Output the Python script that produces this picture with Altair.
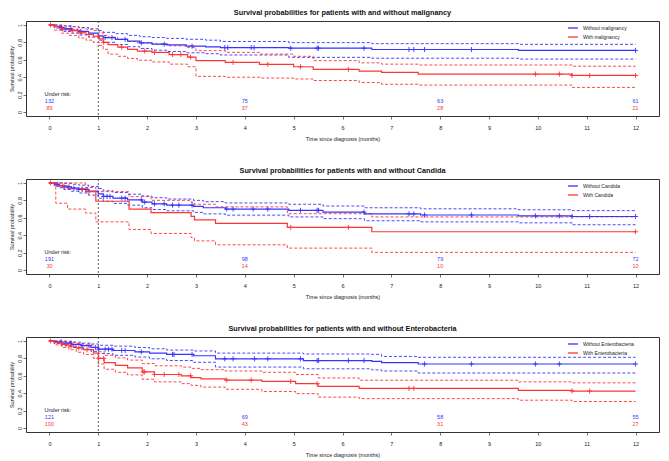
import altair as alt
import pandas as pd

BLUE = "#3535ff"
RED = "#ff3535"
COLORS = [BLUE, RED]
FONT = "Liberation Sans"

T_END = 12
LANDMARK = [1]
RISK_TIMES = [0, 4, 8, 12]

# ---------------- Panel 1: malignancy ----------------
p1_title = "Survival probabilities for patients with and without malignancy"
p1_groups = ["Without malignancy", "With malignancy"]
p1_a_times = [0, 0.1, 0.2, 0.3, 0.45, 0.6, 0.8, 1.0, 1.1, 1.35, 1.6, 1.85, 2.1, 2.4, 2.8, 3.2, 3.5, 4.9, 6.6, 9.6]
p1_a_surv = [1, 0.985, 0.97, 0.955, 0.94, 0.925, 0.905, 0.875, 0.855, 0.835, 0.815, 0.795, 0.78, 0.77, 0.757, 0.748, 0.74, 0.733, 0.718, 0.707]
p1_a_upper = [1, 1, 0.995, 0.99, 0.98, 0.97, 0.955, 0.935, 0.915, 0.9, 0.88, 0.865, 0.855, 0.845, 0.835, 0.825, 0.81, 0.797, 0.785, 0.777]
p1_a_lower = [1, 0.965, 0.945, 0.925, 0.905, 0.885, 0.86, 0.825, 0.8, 0.775, 0.75, 0.73, 0.71, 0.695, 0.68, 0.67, 0.655, 0.628, 0.618, 0.608]
p1_b_times = [0, 0.1, 0.25, 0.4, 0.6, 0.75, 0.9, 1.02, 1.1, 1.2, 1.4, 1.6, 1.8, 2.1, 2.45, 2.83, 3.0, 3.6, 4.3, 5.0, 5.4, 6.34, 6.8, 7.55, 10.7]
p1_b_surv = [1, 0.98, 0.955, 0.935, 0.91, 0.89, 0.87, 0.84, 0.8, 0.775, 0.745, 0.72, 0.7, 0.685, 0.66, 0.63, 0.59, 0.57, 0.548, 0.52, 0.49, 0.47, 0.455, 0.436, 0.42]
p1_b_upper = [1, 1, 0.99, 0.98, 0.965, 0.95, 0.935, 0.91, 0.88, 0.86, 0.835, 0.81, 0.795, 0.78, 0.76, 0.74, 0.705, 0.685, 0.665, 0.64, 0.59, 0.565, 0.55, 0.54, 0.526]
p1_b_lower = [1, 0.94, 0.905, 0.88, 0.85, 0.825, 0.8, 0.765, 0.72, 0.665, 0.64, 0.615, 0.595, 0.575, 0.55, 0.52, 0.41, 0.4, 0.39, 0.38, 0.362, 0.339, 0.319, 0.31, 0.283]
p1_a_cens = [0.24, 0.34, 0.44, 0.64, 1.14, 1.28, 1.55, 1.88, 2.35, 2.92, 3.59, 3.65, 4.13, 4.19, 4.94, 5.48, 5.51, 6.44, 7.36, 7.46, 7.68, 8.64, 12]
p1_b_cens = [0.02, 0.27, 0.47, 0.57, 0.66, 0.81, 1.01, 1.11, 1.48, 1.95, 2.15, 2.52, 2.69, 2.89, 3.76, 4.47, 5.14, 6.12, 9.95, 10.44, 10.7, 11.06, 12]
p1_a_risk = [132, 75, 63, 61]
p1_b_risk = [89, 37, 28, 21]

# ---------------- Panel 2: Candida ----------------
p2_title = "Survival probabilities for patients with and without Candida"
p2_groups = ["Without Candida", "With Candida"]
p2_a_times = [0, 0.1, 0.2, 0.3, 0.45, 0.6, 0.8, 1.0, 1.1, 1.3, 1.6, 1.9, 2.1, 2.4, 2.95, 3.15, 3.6, 4.9, 5.6, 6.45, 7.6, 9.6, 10.7]
p2_a_surv = [1, 0.985, 0.97, 0.955, 0.94, 0.925, 0.905, 0.875, 0.845, 0.825, 0.805, 0.78, 0.76, 0.745, 0.73, 0.715, 0.70, 0.685, 0.665, 0.645, 0.632, 0.622, 0.615]
p2_a_upper = [1, 1, 1, 0.995, 0.985, 0.975, 0.96, 0.935, 0.91, 0.89, 0.87, 0.85, 0.83, 0.815, 0.80, 0.785, 0.77, 0.755, 0.735, 0.715, 0.703, 0.692, 0.682]
p2_a_lower = [1, 0.965, 0.945, 0.925, 0.905, 0.885, 0.86, 0.825, 0.79, 0.765, 0.745, 0.715, 0.695, 0.68, 0.662, 0.645, 0.63, 0.61, 0.59, 0.566, 0.553, 0.542, 0.52]
p2_b_times = [0, 0.13, 0.37, 0.74, 0.95, 1.63, 2.08, 2.9, 2.97, 3.4, 4.87, 6.6]
p2_b_surv = [1, 0.967, 0.933, 0.9, 0.79, 0.70, 0.66, 0.617, 0.575, 0.535, 0.49, 0.44]
p2_b_upper = [1, 1, 1, 0.948, 0.9, 0.843, 0.80, 0.78, 0.755, 0.725, 0.647, 0.61]
p2_b_lower = [1, 0.767, 0.70, 0.654, 0.553, 0.466, 0.42, 0.372, 0.335, 0.29, 0.252, 0.203]
p2_a_cens = [0.17, 0.3, 0.4, 0.5, 0.6, 0.67, 0.77, 1.11, 1.18, 1.24, 1.48, 1.55, 1.88, 1.95, 2.15, 2.35, 2.52, 2.65, 2.92, 3.63, 3.76, 4.17, 4.47, 5.14, 5.48, 5.51, 6.44, 7.36, 7.46, 7.68, 8.64, 9.95, 10.44, 10.7, 11.06, 12]
p2_b_cens = [0.02, 0.27, 0.67, 0.81, 4.94, 6.12, 12]
p2_a_risk = [191, 98, 79, 72]
p2_b_risk = [30, 14, 10, 10]

# ---------------- Panel 3: Enterobacteria ----------------
p3_title = "Survival probabilities for patients with and without Enterobacteria"
p3_groups = ["Without Enterobacteria", "With Enterobacteria"]
p3_a_times = [0, 0.1, 0.25, 0.45, 0.65, 0.85, 1.0, 1.3, 1.75, 2.05, 2.4, 2.95, 3.4, 5.2, 6.6, 6.8, 7.55]
p3_a_surv = [1, 0.99, 0.975, 0.96, 0.945, 0.925, 0.905, 0.89, 0.875, 0.86, 0.845, 0.83, 0.795, 0.775, 0.765, 0.752, 0.735]
p3_a_upper = [1, 1, 0.995, 0.985, 0.975, 0.965, 0.95, 0.94, 0.925, 0.91, 0.895, 0.885, 0.86, 0.85, 0.846, 0.822, 0.812]
p3_a_lower = [1, 0.97, 0.945, 0.925, 0.905, 0.88, 0.855, 0.835, 0.815, 0.795, 0.775, 0.755, 0.70, 0.68, 0.668, 0.655, 0.632]
p3_b_times = [0, 0.1, 0.25, 0.4, 0.55, 0.7, 0.9, 1.0, 1.12, 1.35, 1.6, 1.9, 2.15, 2.7, 2.9, 3.1, 3.6, 4.35, 5.04, 5.5, 6.34, 9.6, 10.7]
p3_b_surv = [1, 0.98, 0.96, 0.94, 0.92, 0.9, 0.86, 0.8, 0.75, 0.72, 0.69, 0.645, 0.615, 0.6, 0.58, 0.565, 0.55, 0.535, 0.51, 0.478, 0.455, 0.432, 0.425]
p3_b_upper = [1, 1, 0.995, 0.985, 0.97, 0.955, 0.925, 0.875, 0.835, 0.805, 0.78, 0.74, 0.715, 0.7, 0.685, 0.67, 0.655, 0.64, 0.615, 0.575, 0.549, 0.53, 0.519]
p3_b_lower = [1, 0.955, 0.925, 0.9, 0.87, 0.845, 0.8, 0.735, 0.675, 0.64, 0.61, 0.56, 0.53, 0.51, 0.49, 0.47, 0.445, 0.42, 0.395, 0.355, 0.338, 0.32, 0.305]
p3_a_cens = [0.24, 0.34, 0.44, 0.67, 0.81, 0.94, 1.01, 1.14, 1.21, 1.28, 1.48, 1.55, 1.88, 2.52, 2.55, 2.92, 3.59, 3.76, 4.2, 4.47, 5.14, 5.48, 5.51, 6.12, 6.44, 7.68, 8.64, 9.95, 10.44, 12]
p3_b_cens = [0.02, 0.24, 0.34, 0.44, 0.6, 0.77, 1.01, 1.11, 1.92, 1.95, 2.15, 2.35, 2.65, 2.89, 3.63, 4.13, 4.94, 5.48, 7.36, 7.46, 10.7, 11.06]
p3_a_risk = [121, 69, 58, 55]
p3_b_risk = [100, 43, 31, 27]

# ---------------- layout constants ----------------
W, H = 633, 95
XDOM = [-0.48, 12.48]
YDOM = [-0.045, 1.045]
RISK_LABEL = "Under risk:"
RISK_LABEL_T = -0.1
RISK_LABEL_V = 0.21
RISK_V = [0.125, 0.052]


def surv_at(times, surv, t):
    val = surv[0]
    for ti, si in zip(times, surv):
        if ti <= t:
            val = si
    return val


def panel(title, groups, curves, censors, risks):
    line_rows, cens_rows, risk_rows = [], [], []
    for g, (times, surv, upper, lower), cens, risk, rv in zip(groups, curves, censors, risks, RISK_V):
        tt = list(times) + [T_END]
        for kind, vals in (("surv", surv), ("upper", upper), ("lower", lower)):
            vv = list(vals) + [vals[-1]]
            for t, v in zip(tt, vv):
                line_rows.append({"group": g, "kind": kind, "t": t, "v": v})
        for c in cens:
            cens_rows.append({"group": g, "t": c, "v": surv_at(times, surv, c)})
        for t, n in zip(RISK_TIMES, risk):
            risk_rows.append({"group": g, "t": t, "v": rv, "txt": str(n)})
    lines = pd.DataFrame(line_rows)
    cens = pd.DataFrame(cens_rows)
    rdf = pd.DataFrame(risk_rows)

    x = alt.X("t:Q", scale=alt.Scale(domain=XDOM, nice=False, zero=False),
              axis=alt.Axis(values=list(range(13)), title="Time since diagnosis (months)",
                            labelFontSize=5.5, titleFontSize=5.5, titleFontWeight="normal",
                            tickSize=3, tickWidth=0.7, tickColor="#333", domain=False, grid=False,
                            labelPadding=6, titlePadding=6, labelColor="#222", titleColor="#222"))
    y = alt.Y("v:Q", scale=alt.Scale(domain=YDOM, nice=False, zero=False),
              axis=alt.Axis(values=[0, 0.2, 0.4, 0.6, 0.8, 1], format="~g", title="Survival probability",
                            labelFontSize=5.5, titleFontSize=5.5, titleFontWeight="normal",
                            labelAngle=-90, labelAlign="center", labelBaseline="bottom",
                            tickSize=3, tickWidth=0.7, tickColor="#333", domain=False, grid=False,
                            labelPadding=1, titlePadding=3, labelColor="#222", titleColor="#222"))

    layers = [alt.Chart(pd.DataFrame({"t": LANDMARK})).mark_rule(
        color="#444", strokeDash=[2, 2], strokeWidth=0.9).encode(x=x)]

    # confidence limits (dashed), one layer per group
    for g, col in zip(groups, COLORS):
        sub = lines[(lines.kind != "surv") & (lines.group == g)]
        layers.append(alt.Chart(sub).mark_line(
            interpolate="step-after", strokeDash=[3, 2], strokeWidth=0.9, color=col).encode(
            x=x, y=y, detail="kind:N"))

    # survival curves (carry the legend)
    layers.append(alt.Chart(lines[lines.kind == "surv"]).mark_line(
        interpolate="step-after", strokeWidth=1.2).encode(
        x=x, y=y,
        color=alt.Color("group:N", scale=alt.Scale(domain=groups, range=COLORS),
                        legend=alt.Legend(title=None, orient="none", legendX=W - 92, legendY=1,
                                          padding=0, symbolType="stroke", symbolSize=100,
                                          symbolStrokeWidth=1.3, labelFontSize=5, labelFont=FONT,
                                          rowPadding=-3.6, labelOffset=4, labelColor="#222"))))

    # censoring marks and numbers at risk, one layer per group
    for g, col in zip(groups, COLORS):
        layers.append(alt.Chart(cens[cens.group == g]).mark_point(
            shape="M-1,0L1,0M0,-1L0,1", filled=False, size=26, strokeWidth=0.9, opacity=1,
            color=col).encode(x=x, y=y))
        layers.append(alt.Chart(rdf[rdf.group == g]).mark_text(
            align="center", baseline="middle", fontSize=5.5, color=col).encode(
            x=x, y=y, text="txt:N"))

    layers.append(alt.Chart(pd.DataFrame({"t": [RISK_LABEL_T], "v": [RISK_LABEL_V], "txt": [RISK_LABEL]})).mark_text(
        align="left", baseline="middle", fontSize=5.5, color="#222").encode(x=x, y=y, text="txt:N"))

    return alt.layer(*layers).properties(
        width=W, height=H,
        title=alt.TitleParams(title, fontSize=7.3, fontWeight="bold", anchor="middle",
                              offset=4, color="#111"))


c1 = panel(p1_title, p1_groups,
           [(p1_a_times, p1_a_surv, p1_a_upper, p1_a_lower), (p1_b_times, p1_b_surv, p1_b_upper, p1_b_lower)],
           [p1_a_cens, p1_b_cens], [p1_a_risk, p1_b_risk])
c2 = panel(p2_title, p2_groups,
           [(p2_a_times, p2_a_surv, p2_a_upper, p2_a_lower), (p2_b_times, p2_b_surv, p2_b_upper, p2_b_lower)],
           [p2_a_cens, p2_b_cens], [p2_a_risk, p2_b_risk])
c3 = panel(p3_title, p3_groups,
           [(p3_a_times, p3_a_surv, p3_a_upper, p3_a_lower), (p3_b_times, p3_b_surv, p3_b_upper, p3_b_lower)],
           [p3_a_cens, p3_b_cens], [p3_a_risk, p3_b_risk])

chart = alt.vconcat(c1, c2, c3, spacing=23).resolve_scale(color="independent").properties(
    padding={"left": 0, "top": 0, "right": 0, "bottom": 0}
).configure(font=FONT).configure_view(stroke="#333", strokeWidth=1)

chart.save("out.html", embed_options={"renderer": "svg", "actions": False})
